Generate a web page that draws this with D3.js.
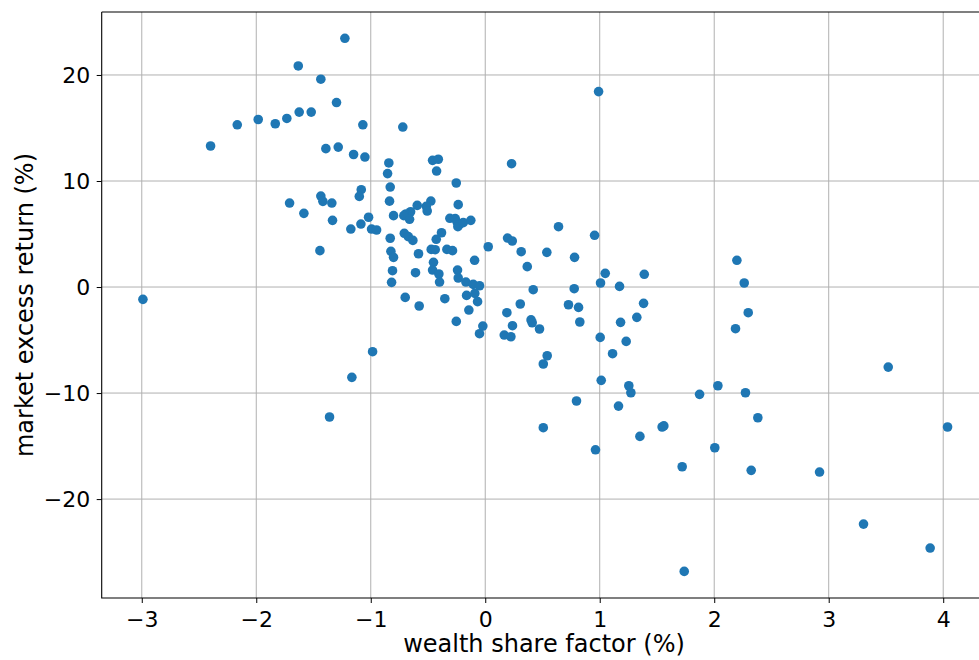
<!DOCTYPE html>
<html>
<head>
<meta charset="utf-8">
<script src="https://cdn.jsdelivr.net/npm/d3@7"></script>
<style>
	body {margin:0; background:#ffffff;}
	text {font-family:"DejaVu Sans", sans-serif;}
</style>
</head>
<body>
<script>
//=======================================================================
// wealth share factor (%) - x values
var aryWealthShare = [
	-1.226,-1.633,-1.436,-1.299,-1.625,-1.520,-1.983,-1.733,-1.834,-2.166,
	-1.069,-2.399,-1.392,-1.284,-1.150,-1.051,-0.842,-0.853,-0.830,-1.083,
	-1.100,-0.836,-1.436,-1.418,-1.340,-1.709,-1.584,-1.334,-1.019,-1.086,
	-1.174,-0.993,-0.949,-1.444,-2.990,-0.984,-1.165,-1.360,-0.830,-0.824,
	-0.810,-0.818,-0.460,-0.410,-0.425, 0.230,-0.253,-0.236,-0.475,-0.515,
	-0.507,-0.594,-0.652,-0.693,-0.711,-0.661,-0.801,-0.309,-0.262,-0.245,
	-0.224,-0.239,-0.192,-0.126,-0.382,-0.428,-0.707,-0.672,-0.632,-0.801,
	-0.583,-0.472,-0.437,-0.335,-0.286,-0.093, 0.026, 0.195, 0.236, 0.314,
	 0.367, 0.538, 0.640, 0.780, 0.777, 0.419, 0.306, 0.189, 0.727, 0.815,
	 0.826, 0.400, 0.410, 0.474, 0.238, 0.166, 0.224,-0.452,-0.460,-0.405,
	-0.399,-0.609,-0.242,-0.236,-0.169,-0.105,-0.050,-0.163,-0.091,-0.067,
	-0.143,-0.353,-0.699,-0.577,-0.253,-0.021,-0.050, 0.955, 1.048, 1.007,
	 1.389, 1.173, 1.383, 1.324, 1.182, 1.004, 1.231, 1.112, 1.013, 1.254,
	 1.272, 0.797, 1.164, 1.872, 2.032, 2.273, 2.381, 2.198, 2.262, 2.297,
	 2.186, 0.541, 0.507, 0.507, 0.963, 1.351, 1.545, 1.560, 1.720, 1.738,
	 2.005, 2.323, 3.520, 2.920, 4.038, 3.304, 3.886, 0.990,-0.720
];
// market excess return (%) - y values, same order
var aryExcessReturn = [
	23.46, 20.85, 19.60, 17.40, 16.50, 16.50, 15.80, 15.90, 15.40, 15.30,
	15.30, 13.30, 13.05, 13.20, 12.50, 12.26, 11.70, 10.70,  9.43,  9.18,
	 8.55,  8.10,  8.58,  8.08,  7.92,  7.92,  6.95,  6.29,  6.58,  5.94,
	 5.47,  5.47,  5.38,  3.43, -1.16, -6.10, -8.52,-12.26,  4.60,  3.37,
	 1.54,  0.44, 11.95, 12.05, 10.94, 11.63,  9.81,  7.77,  8.11,  7.61,
	 7.17,  7.70,  7.10,  6.89,  6.73,  6.39,  6.73,  6.48,  6.45,  6.10,
	 5.94,  5.69,  6.07,  6.29,  5.12,  4.50,  5.07,  4.75,  4.40,  2.80,
	 3.14,  3.55,  3.52,  3.55,  3.43,  2.52,  3.80,  4.62,  4.34,  3.33,
	 1.92,  3.27,  5.69,  2.80, -0.16, -0.25, -1.60, -2.42, -1.67, -1.92,
	-3.30, -3.10, -3.37, -3.96, -3.65, -4.53, -4.69,  2.33,  1.60,  1.23,
	 0.47,  1.35,  1.60,  0.85,  0.47,  0.25,  0.12, -0.79, -0.60, -1.38,
	-2.17, -1.10, -0.98, -1.79, -3.24, -3.68, -4.40,  4.88,  1.29,  0.38,
	 1.20,  0.06, -1.54, -2.86, -3.33, -4.75, -5.13, -6.29, -8.80, -9.31,
	-9.97,-10.75,-11.23,-10.12, -9.31, -9.97,-12.33,  2.52,  0.38, -2.42,
	-3.93, -6.48, -7.26,-13.27,-15.35,-14.09,-13.20,-13.10,-16.95,-26.82,
	-15.16,-17.29, -7.55,-17.45,-13.20,-22.36,-24.62, 18.43, 15.09
];
var aryXTicks = [-3, -2, -1, 0, 1, 2, 3, 4];
var aryYTicks = [-20, -10, 0, 10, 20];
//----------------------------------------------------------------------
var v_Width = 979, v_Height = 660;
var v_Left = 101.7, v_Right = 989, v_Top = 12, v_Bottom = 598;

f_Draw();
//----------------------------------------------------------------------
function f_Draw()
{
	var v_Canvas = d3.select("body")
						.append("svg")
						.attr("width", v_Width)
						.attr("height", v_Height);

	var x = d3.scaleLinear().domain([-3.35, 4.40]).range([v_Left, v_Right]);
	var y = d3.scaleLinear().domain([-29.33, 25.94]).range([v_Bottom, v_Top]);

	// grid first, under the dots
	v_Canvas.append("g")
				.selectAll("line")
				.data(aryXTicks)
				.enter()
					.append("line")
					.attr("x1", function(d){return x(d);})
					.attr("x2", function(d){return x(d);})
					.attr("y1", v_Top)
					.attr("y2", v_Bottom)
					.attr("stroke", "#b0b0b0")
					.attr("stroke-width", 1);
	v_Canvas.append("g")
				.selectAll("line")
				.data(aryYTicks)
				.enter()
					.append("line")
					.attr("x1", v_Left)
					.attr("x2", v_Right)
					.attr("y1", function(d){return y(d);})
					.attr("y2", function(d){return y(d);})
					.attr("stroke", "#b0b0b0")
					.attr("stroke-width", 1);

	v_Canvas.append("g")
				.selectAll("circle")
				.data(aryWealthShare)
				.enter()
					.append("circle")
					.attr("cx", function(d){return x(d);})
					.attr("cy", function(d,i){return y(aryExcessReturn[i]);})
					.attr("r", 4.8)
					.attr("fill", "#1f77b4");

	// axes
	v_Canvas.append("g")
				.attr("transform", "translate(0," + v_Bottom + ")")
				.call(d3.axisBottom(x).tickValues(aryXTicks).tickFormat(d3.format("d")).tickSize(5).tickPadding(8));
	v_Canvas.append("g")
				.attr("transform", "translate(" + v_Left + ",0)")
				.call(d3.axisLeft(y).tickValues(aryYTicks).tickFormat(d3.format("d")).tickSize(5).tickPadding(6.5));
	v_Canvas.selectAll(".domain").remove();
	v_Canvas.selectAll(".tick line").attr("stroke", "#000").attr("stroke-width", 1);
	v_Canvas.selectAll(".tick text")
				.attr("font-family", "DejaVu Sans")
				.attr("font-size", 22)
				.attr("fill", "#000");

	// spines: left, bottom, top (right one falls outside the picture)
	v_Canvas.append("path")
				.attr("d", "M" + v_Left + "," + v_Top + "V" + v_Bottom + "H" + v_Right
					+ "M" + v_Left + "," + v_Top + "H" + v_Right)
				.attr("fill", "none")
				.attr("stroke", "#000")
				.attr("stroke-width", 1.1);

	v_Canvas.append("text")
				.attr("x", 544)
				.attr("y", 652)
				.attr("text-anchor", "middle")
				.attr("font-size", 24)
				.text("wealth share factor (%)");
	v_Canvas.append("text")
				.attr("transform", "translate(33,305) rotate(-90)")
				.attr("text-anchor", "middle")
				.attr("font-size", 24)
				.text("market excess return (%)");
}
//======================================================================
</script>
</body>
</html>
